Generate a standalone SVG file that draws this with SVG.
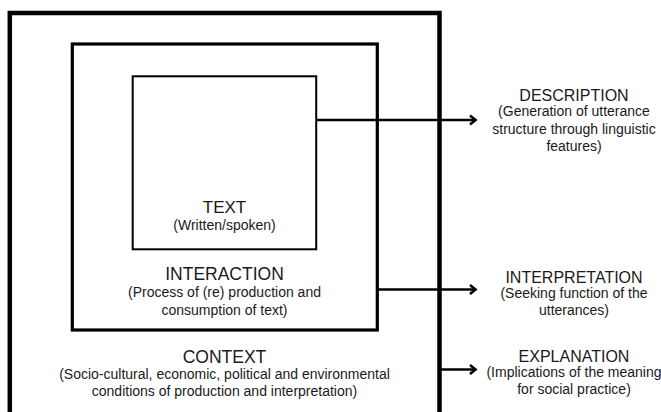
<svg xmlns="http://www.w3.org/2000/svg" width="661" height="412" viewBox="0 0 661 412">
<style>
.box{fill:none;stroke:#000;}
.t{font-family:"Liberation Sans",Arial,sans-serif;font-size:16px;fill:#1a1a1a;text-anchor:middle;}
.tl{font-size:17.5px;}
.s{font-family:"Liberation Sans",Arial,sans-serif;font-size:14px;fill:#1a1a1a;text-anchor:middle;}
.c{stroke:#000;stroke-width:2.5;fill:none;}
</style>
<defs>
<marker id="ah" viewBox="0 0 10 12" refX="8.5" refY="6" markerWidth="10" markerHeight="12" markerUnits="userSpaceOnUse" orient="auto">
<path d="M2.5,1.5 L8,6 L2.5,10.5" fill="none" stroke="#000" stroke-width="2.6"/>
</marker>
</defs>
<rect width="661" height="412" fill="#fff"/>
<g id="context">
<rect class="box" x="9.8" y="13" width="429.7" height="420" stroke-width="4.5"/>
<text class="t tl" x="224.5" y="363">CONTEXT</text>
<text class="s" x="224.5" y="379">(Socio-cultural, economic, political and environmental</text>
<text class="s" x="224.5" y="395.5">conditions of production and interpretation)</text>
</g>
<g id="interaction">
<rect class="box" x="72.3" y="44" width="305" height="286" stroke-width="3.2"/>
<text class="t tl" x="224.5" y="280">INTERACTION</text>
<text class="s" x="224.5" y="297">(Process of (re) production and</text>
<text class="s" x="224.5" y="314.5">consumption of text)</text>
</g>
<g id="text">
<rect class="box" x="132.7" y="76.3" width="183.5" height="173" stroke-width="2"/>
<text class="t" x="224.5" y="213" style="font-size:17px">TEXT</text>
<text class="s" x="224.5" y="229.5">(Written/spoken)</text>
</g>
<g id="description">
<text class="t" x="574" y="101">DESCRIPTION</text>
<text class="s" x="574" y="116">(Generation of utterance</text>
<text class="s" x="574" y="133.5">structure through linguistic</text>
<text class="s" x="574" y="150.5">features)</text>
</g>
<g id="interpretation">
<text class="t" x="574" y="283">INTERPRETATION</text>
<text class="s" x="574" y="297.5">(Seeking function of the</text>
<text class="s" x="574" y="314.5">utterances)</text>
</g>
<g id="explanation">
<text class="t" x="574" y="362">EXPLANATION</text>
<text class="s" x="574" y="376.5">(Implications of the meaning</text>
<text class="s" x="574" y="393.5">for social practice)</text>
</g>
<g id="connectors">
<line class="c" x1="316" y1="120" x2="476" y2="120" marker-end="url(#ah)"/>
<line class="c" x1="377" y1="289.5" x2="476" y2="289.5" marker-end="url(#ah)"/>
<line class="c" x1="439" y1="369.5" x2="476" y2="369.5" marker-end="url(#ah)"/>
</g>
</svg>
